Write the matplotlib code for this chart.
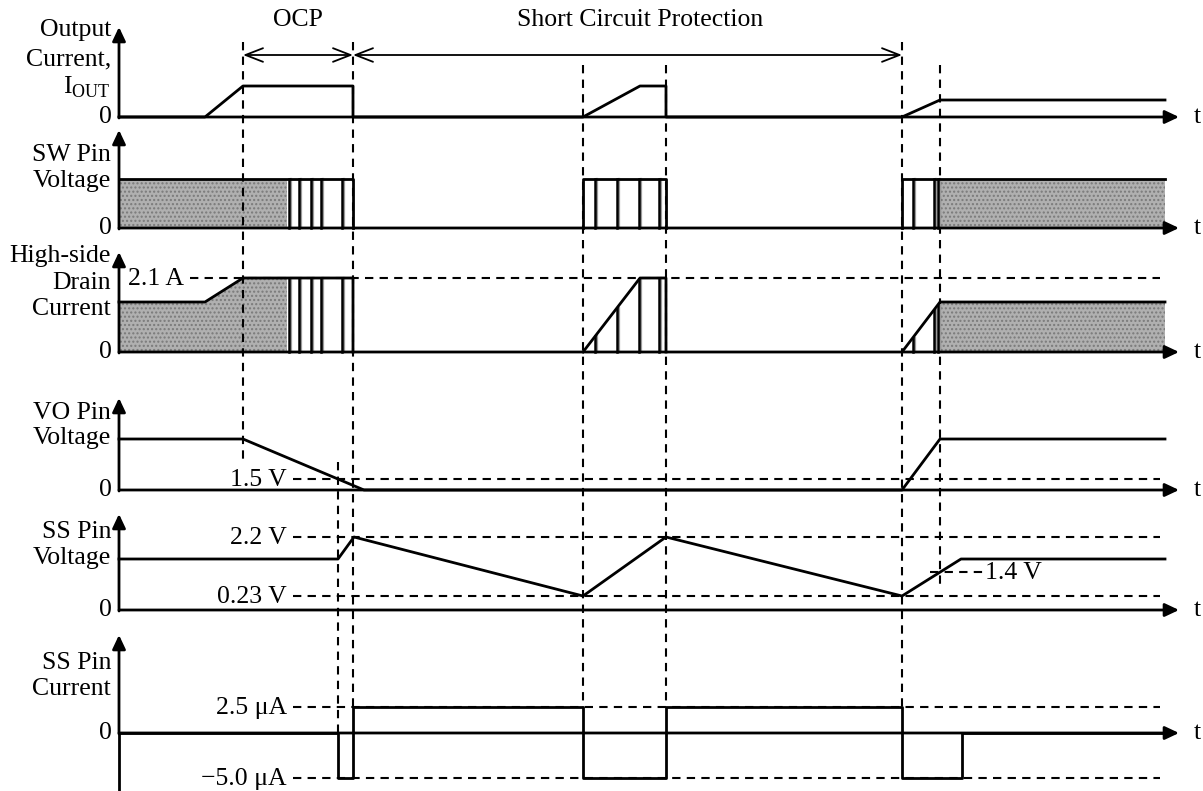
import matplotlib
matplotlib.use("Agg")
import matplotlib.pyplot as plt
import numpy as np

# ---- data: event times (arbitrary time units, 0 = vertical axis) ----
t_start = 0
t_ramp = 86       # output current starts rising
t_ocp = 124       # OCP starts
t_hatch = 168     # end of dense switching
t_ss_dis = 219    # SS discharge (VO < 1.5 V)
t_scp = 234       # short circuit protection starts
t_vo0 = 245       # VO reaches 0
t_rs1 = 464       # restart attempt 1
t_rs1_lim = 521
t_rs1_end = 547
t_rs2 = 783       # restart attempt 2 (successful)
t_rs2_top = 821
t_ss_up = 842
t_end = 1046
t_axis = 1058

# switching pulse edges
sw_lines_ocp = [170, 180, 192, 202, 223]
sw_lines_rs1 = [476, 498, 520, 540]
sw_lines_rs2 = [794, 815]

# signal levels (row units, 0 = row baseline)
iout_t = [t_start, t_ramp, t_ocp, t_scp, t_scp, t_rs1, t_rs1_lim, t_rs1_end, t_rs1_end, t_rs2, t_rs2_top, t_end]
iout_v = [0, 0, 31, 31, 0, 0, 31, 31, 0, 0, 17, 17]

sw_high = 49

id_t = [t_start, t_ramp, t_ocp, t_scp, t_scp]
id_v = [50, 50, 74, 74, 0]
id_rs1_t = [t_rs1, t_rs1_lim, t_rs1_end, t_rs1_end]
id_rs1_v = [0, 74, 74, 0]
id_rs2_t = [t_rs2, t_rs2_top, t_end]
id_rs2_v = [0, 50, 50]
id_limit = 74    # 2.1 A

vo_t = [t_start, t_ocp, t_vo0, t_rs2, t_rs2_top, t_end]
vo_v = [51, 51, 0, 0, 51, 51]
vo_th = 11       # 1.5 V

ss_t = [t_start, t_ss_dis, t_scp + 1, t_rs1, t_rs1_end, t_rs2, t_ss_up, t_end]
ss_v = [51, 51, 73, 14, 73, 14, 51, 51]
ss_hi = 73       # 2.2 V
ss_lo = 14       # 0.23 V
ss_mid = 38      # 1.4 V

ssi_t = [t_start, t_ss_dis, t_ss_dis, t_scp, t_scp, t_rs1, t_rs1, t_rs1_end, t_rs1_end,
         t_rs2, t_rs2, t_ss_up + 1, t_ss_up + 1, t_end]
ssi_v = [0, 0, -45, -45, 26, 26, -45, -45, 26, 26, -45, -45, 0, 0]
ssi_hi = 26      # 2.5 uA
ssi_lo = -45     # -5.0 uA

# ---- layout (pixel rows) ----
W, H = 1203, 791
x0 = 119
base = {"iout": 117, "sw": 228, "id": 352, "vo": 490, "ss": 610, "ssi": 733}
tip = {"iout": 27, "sw": 130, "id": 252, "vo": 398, "ss": 514, "ssi": 635}

plt.rcParams['font.family'] = ['Liberation Serif', 'DejaVu Serif']
plt.rcParams['mathtext.fontset'] = 'custom'
plt.rcParams['mathtext.rm'] = 'Liberation Serif'
FS = 18.5

fig = plt.figure(figsize=(W / 100, H / 100), dpi=100)
ax = fig.add_axes([0, 0, 1, 1])
ax.set_xlim(-x0, W - x0)
ax.set_ylim(H, 0)
ax.axis('off')

LW = 2.0
dash = (0, (4, 3))
GHOST = '#9a9a9a'
HATCH_FC = '#b0b0b0'
AX_ARROW = dict(arrowstyle='-|>,head_length=0.7,head_width=0.33', color='k', lw=LW,
                mutation_scale=12, shrinkA=0, shrinkB=0)


def y_of(row, v):
    return base[row] - np.asarray(v, dtype=float)


# axes with arrows
for row in base:
    ax.annotate('', xy=(0, tip[row]), xytext=(0, base[row] + 1), arrowprops=AX_ARROW)
    ax.annotate('', xy=(t_axis + 2, base[row]), xytext=(0, base[row]), arrowprops=AX_ARROW)
    ax.text(t_axis + 17, base[row], 't', fontsize=FS, ha='left', va='center')
    ax.text(-7, base[row], '0', fontsize=FS, ha='right', va='center')
ax.plot([0, 0], [base['ssi'], H], color='k', lw=LW)

# row titles
titles = [
    (["Output", "Current,", r"I$_{\rm OUT}$"], [30, 59, 87]),
    (["SW Pin", "Voltage"], [155, 181]),
    (["High-side", "Drain", "Current"], [256, 283, 309]),
    (["VO Pin", "Voltage"], [413, 438]),
    (["SS Pin", "Voltage"], [532, 558]),
    (["SS Pin", "Current"], [663, 689]),
]
for lines, ys in titles:
    for s, yy in zip(lines, ys):
        ax.text(-8, yy, s, fontsize=FS, ha='right', va='center')

# vertical dashed event lines: (time, top, bottom)
vlines = [(t_ocp, 42, 462), (t_scp, 42, 707), (t_ss_dis, 462, 733),
          (t_rs1, 65, 707), (t_rs1_end, 65, 707), (t_rs2, 42, 707), (t_rs2_top, 65, 585)]
for tv, y1, y2 in vlines:
    ax.plot([tv, tv], [y1, y2], color='k', lw=1.5, linestyle=dash)

# horizontal dashed reference levels
href = [("id", id_limit, 71, "2.1 A"), ("vo", vo_th, 174, "1.5 V"), ("ss", ss_hi, 174, "2.2 V"),
        ("ss", ss_lo, 174, "0.23 V"), ("ssi", ssi_hi, 174, "2.5 μA"), ("ssi", ssi_lo, 174, "\u22125.0 μA")]
for row, lv, xs, lab in href:
    yy = base[row] - lv
    ax.plot([xs, t_end - 5], [yy, yy], color='k', lw=1.5, linestyle=dash)
    ax.text(xs - 6, yy + 1, lab, fontsize=FS, ha='right', va='center')
yy = base['ss'] - ss_mid
ax.plot([811, 864], [yy, yy], color='k', lw=1.5, linestyle=dash)
ax.text(866, yy + 1, "1.4 V", fontsize=FS, ha='left', va='center')

# protection span arrows
ya = 55
SPAN_ARROW = dict(arrowstyle='<->,head_length=0.9,head_width=0.35', color='k', lw=1.3,
                  mutation_scale=14, shrinkA=0, shrinkB=0)
ax.annotate('', xy=(t_ocp, ya), xytext=(t_scp, ya), arrowprops=SPAN_ARROW)
ax.annotate('', xy=(t_scp, ya), xytext=(t_rs2, ya), arrowprops=SPAN_ARROW)
ax.text((t_ocp + t_scp) / 2, 20, "OCP", fontsize=FS, ha='center', va='center')
ax.text(521, 20, "Short Circuit Protection", fontsize=FS, ha='center', va='center')

# output current
ax.plot(iout_t, y_of('iout', iout_v), color='k', lw=LW)


def switch_lines(row, ts, top_fn):
    for tv in ts:
        top = top_fn(tv)
        ax.plot([tv + 2, tv + 2], [base[row], base[row] - top], color=GHOST, lw=1.6)
        ax.plot([tv, tv], [base[row], base[row] - top], color='k', lw=1.8)


# SW pin voltage
ax.fill_between([0, t_hatch], base['sw'], base['sw'] - sw_high, facecolor=HATCH_FC,
                edgecolor='#7a7a7a', hatch='....', lw=0)
ax.fill_between([t_rs2_top + 1, t_end], base['sw'], base['sw'] - sw_high, facecolor=HATCH_FC,
                edgecolor='#7a7a7a', hatch='....', lw=0)
switch_lines('sw', sw_lines_ocp, lambda tv: sw_high)
switch_lines('sw', sw_lines_rs1, lambda tv: sw_high)
switch_lines('sw', sw_lines_rs2 + [t_rs2_top - 2], lambda tv: sw_high)
ax.plot([0, t_scp, t_scp], y_of('sw', [sw_high, sw_high, 0]), color='k', lw=LW)
ax.plot([t_rs1, t_rs1, t_rs1_end, t_rs1_end], y_of('sw', [0, sw_high, sw_high, 0]), color='k', lw=LW)
ax.plot([t_rs2, t_rs2, t_end], y_of('sw', [0, sw_high, sw_high]), color='k', lw=LW)

# high-side drain current
tt = np.linspace(0, t_hatch, 60)
ax.fill_between(tt, base['id'], y_of('id', np.interp(tt, id_t[:4], id_v[:4])), facecolor=HATCH_FC,
                edgecolor='#7a7a7a', hatch='....', lw=0)
ax.fill_between([t_rs2_top + 1, t_end], base['id'], base['id'] - 50, facecolor=HATCH_FC,
                edgecolor='#7a7a7a', hatch='....', lw=0)
switch_lines('id', sw_lines_ocp, lambda tv: np.interp(tv, id_t[:4], id_v[:4]))
switch_lines('id', sw_lines_rs1, lambda tv: np.interp(tv, id_rs1_t[:3], id_rs1_v[:3]))
switch_lines('id', sw_lines_rs2 + [t_rs2_top - 2], lambda tv: np.interp(tv, id_rs2_t, id_rs2_v))
ax.plot(id_t, y_of('id', id_v), color='k', lw=LW)
ax.plot(id_rs1_t, y_of('id', id_rs1_v), color='k', lw=LW)
ax.plot(id_rs2_t, y_of('id', id_rs2_v), color='k', lw=LW)

# VO pin voltage
ax.plot(vo_t, y_of('vo', vo_v), color='k', lw=LW)

# SS pin voltage
ax.plot(ss_t, y_of('ss', ss_v), color='k', lw=LW)

# SS pin current
ax.plot(ssi_t, y_of('ssi', ssi_v), color='k', lw=LW)

fig.savefig("out.png", dpi=100)
